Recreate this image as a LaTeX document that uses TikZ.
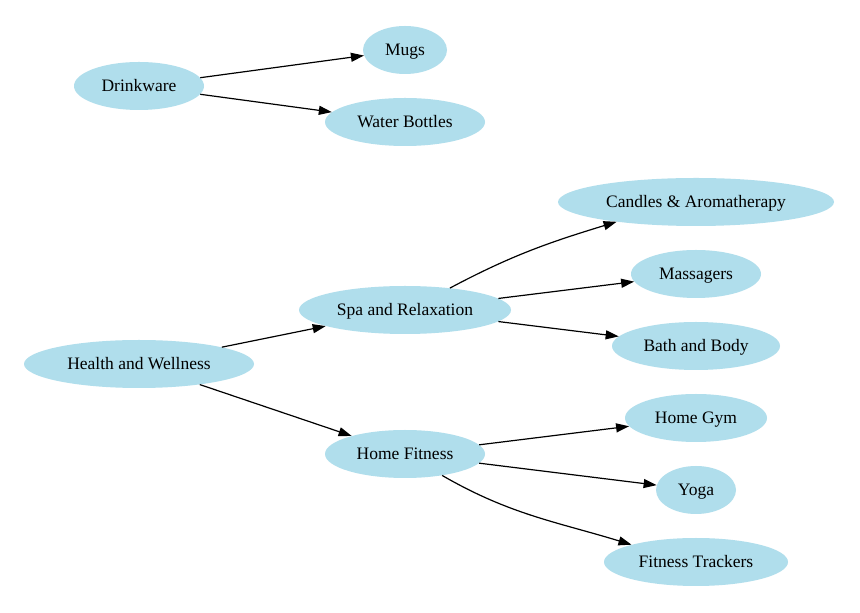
\documentclass[tikz,border=0pt]{standalone}
\usepackage{fontspec}
\setmainfont{Liberation Serif}
\usetikzlibrary{shapes.geometric,arrows.meta}
\definecolor{nodeblue}{HTML}{B0DEEC}
\begin{document}
\begin{tikzpicture}[x=1pt,y=1pt,
  nd/.style={ellipse, fill=nodeblue, draw=none, inner sep=0pt, minimum height=48pt,
             text height=14pt, text depth=2.4pt,
             font=\fontsize{17.5}{20}\selectfont},
  edge/.style={draw=black, line width=1.2pt, -{Triangle[length=13pt,width=9pt]}}]
\useasboundingbox[fill=white] (0,0) rectangle (860,613);
\node[nd, minimum width=130pt] (drink) at (139,527) {Drinkware};
\node[nd, minimum width=84pt]  (mugs)  at (405,563) {Mugs};
\node[nd, minimum width=160pt] (water) at (405,491) {Water Bottles};
\node[nd, minimum width=230pt] (health) at (139,249) {Health and Wellness};
\node[nd, minimum width=212pt] (spa) at (405,303) {Spa and Relaxation};
\node[nd, minimum width=160pt] (fit) at (405,159) {Home Fitness};
\node[nd, minimum width=276pt] (candles) at (696,411) {Candles \& Aromatherapy};
\node[nd, minimum width=130pt] (mass) at (696,339) {Massagers};
\node[nd, minimum width=168pt] (bath) at (696,267) {Bath and Body};
\node[nd, minimum width=142pt] (gym) at (696,195) {Home Gym};
\node[nd, minimum width=80pt]  (yoga) at (696,123) {Yoga};
\node[nd, minimum width=184pt] (track) at (696,51) {Fitness Trackers};

\draw[edge] (drink) -- (mugs);
\draw[edge] (drink) -- (water);
\draw[edge] (health) -- (spa);
\draw[edge] (health) -- (fit);
\draw[edge] (spa.26) to[out=28, in=197] (candles.194);
\draw[edge] (spa) -- (mass);
\draw[edge] (spa) -- (bath);
\draw[edge] (fit) -- (gym);
\draw[edge] (fit) -- (yoga);
\draw[edge] (fit.-30) to[out=-30, in=163] (track.165);
\end{tikzpicture}
\end{document}
